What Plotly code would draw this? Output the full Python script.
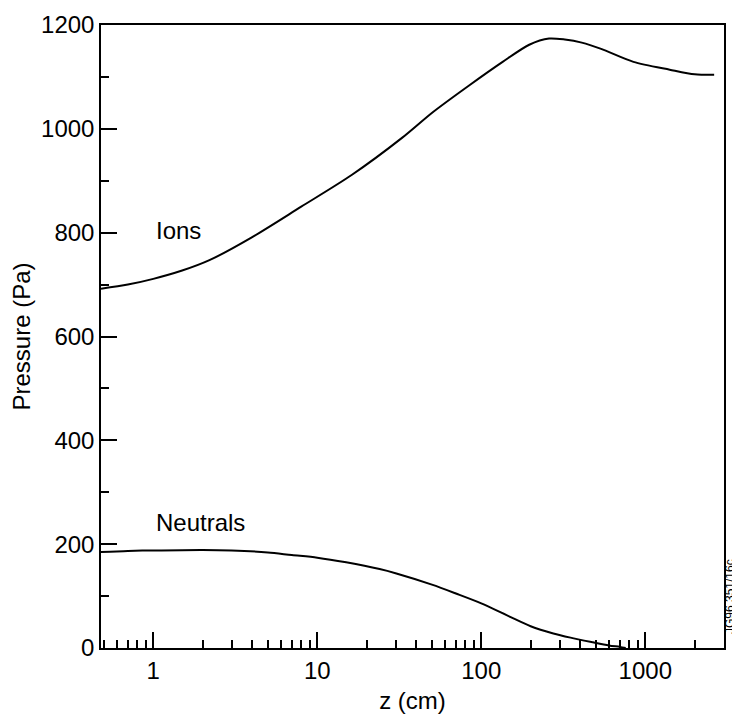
import plotly.graph_objects as go
import math

# Ions curve
ions_z = [0.48, 0.7, 1, 1.5, 2.2, 3.94, 7.98, 16.2, 33, 50.6, 85.5, 135, 196, 259, 323, 410, 538, 847, 1410, 2000, 2630]
ions_p = [692, 700, 711, 727, 747, 790, 850, 911, 983, 1032, 1085, 1129, 1162, 1174, 1172, 1166, 1154, 1129, 1114, 1105, 1104]

# Neutrals curve
neut_z = [0.48, 0.7, 1, 2, 3, 5, 7, 10, 15, 24, 30, 50, 70, 100, 150, 200, 275, 350, 480, 600, 700, 760]
neut_p = [185, 187, 188, 189, 188, 184, 179, 174, 165, 152, 144, 122, 105, 86, 60, 42, 28, 20, 11, 5, 2, 0]

x_major = [1, 10, 100, 1000]
x_major_text = ["1", "10", "100", "1000"]
x_minor = [0.5, 0.6, 0.7, 0.8, 0.9] + [k for k in range(2, 10)] + [k * 10 for k in range(2, 10)] + \
          [k * 100 for k in range(2, 10)] + [2000, 3000]

y_major = [0, 200, 400, 600, 800, 1000, 1200]

FONT = "Liberation Sans, Arial, Helvetica, sans-serif"
FS = 24

# the page body adds an 8px margin; the layout compensates for it
OFF = 8
pl, pr, pt, pb = 101, 724, 25, 648  # plot area in page pixels

fig = go.Figure()
fig.add_trace(go.Scatter(x=ions_z, y=ions_p, mode="lines",
                         line=dict(color="black", width=2, shape="spline", smoothing=0.8),
                         showlegend=False, hoverinfo="skip"))
fig.add_trace(go.Scatter(x=neut_z, y=neut_p, mode="lines",
                         line=dict(color="black", width=2, shape="spline", smoothing=0.8),
                         showlegend=False, hoverinfo="skip"))

W, H = 740 - OFF, 727 - OFF
fig.update_layout(
    width=W, height=H,
    margin=dict(l=pl - OFF, r=W + OFF - pr, t=pt - OFF, b=H + OFF - pb, autoexpand=False),
    paper_bgcolor="white", plot_bgcolor="white",
    font=dict(family=FONT, size=FS, color="black"),
    xaxis=dict(
        type="log", range=[math.log10(0.48), math.log10(3020)],
        tickvals=x_major, ticktext=x_major_text,
        ticks="inside", ticklen=16, tickwidth=1.5, tickcolor="black",
        showline=True, linecolor="black", linewidth=1.5, mirror=True,
        showgrid=False, zeroline=False, automargin=False,
        minor=dict(tickvals=x_minor, ticks="inside", ticklen=8, tickwidth=1.5, tickcolor="black", showgrid=False),
        title=dict(text="z (cm)", font=dict(size=FS), standoff=10),
        tickfont=dict(size=FS),
    ),
    yaxis=dict(
        range=[0, 1200],
        tickvals=y_major,
        ticks="inside", ticklen=16, tickwidth=1.5, tickcolor="black",
        showline=True, linecolor="black", linewidth=1.5, mirror=True,
        showgrid=False, zeroline=False, automargin=False,
        minor=dict(dtick=100, ticks="inside", ticklen=8, tickwidth=1.5, tickcolor="black", showgrid=False),
        title=dict(text="Pressure (Pa)", font=dict(size=FS), standoff=8),
        tickfont=dict(size=FS),
    ),
)


def px2paper(px, py):
    return (px - pl) / (pr - pl), (pb - py) / (pb - pt)


anns = []
for text, px, py, anchor, angle, size in [
    ("Ions", 155, 230, "left", 0, FS),
    ("Neutrals", 155, 522, "left", 0, FS),
    ("JG96.351/16c", 730, 597, "center", -90, 12),
]:
    x, y = px2paper(px, py)
    anns.append(dict(text=text, xref="paper", yref="paper", showarrow=False,
                     x=x, y=y, xanchor=anchor, yanchor="middle", textangle=angle,
                     font=dict(size=size), borderpad=0))
fig.update_layout(annotations=anns)

fig.write_html("out.html")
